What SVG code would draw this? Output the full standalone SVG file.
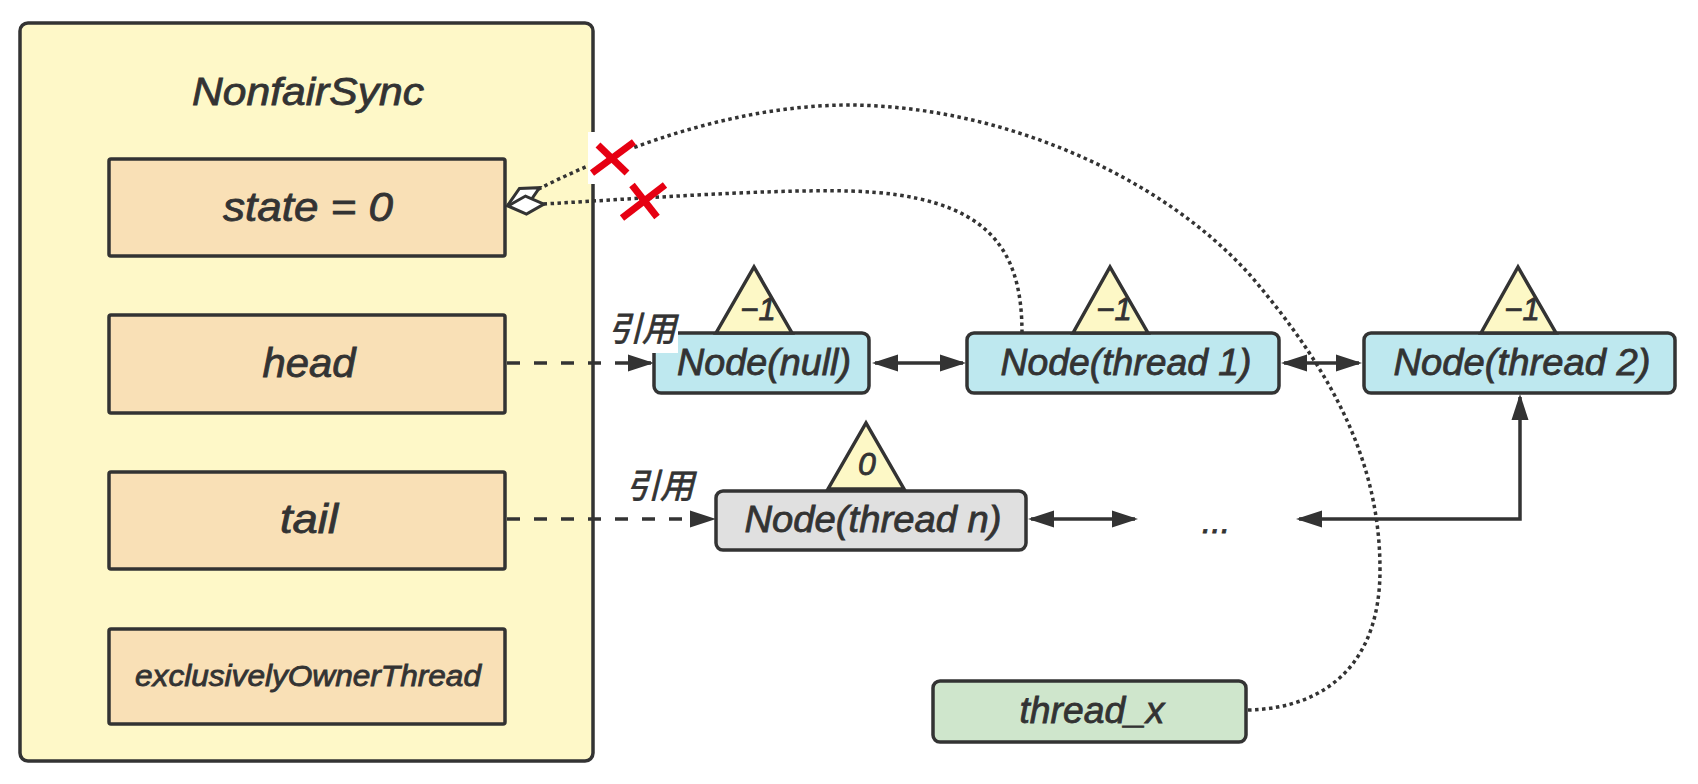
<svg xmlns="http://www.w3.org/2000/svg" width="1698" height="784" viewBox="0 0 1698 784">
<style>
.t{font-family:"Liberation Sans","Noto Sans CJK SC",sans-serif;font-style:italic;fill:#333;text-anchor:middle;stroke:#333;stroke-width:0.8}
.box{stroke:#333;stroke-width:3.5}
.field{fill:#F9E0B6}
.node{fill:#BEE8EF}
.tri{fill:#FDF8C6;stroke:#333;stroke-width:3.5;stroke-linejoin:miter}
.ln{fill:none;stroke:#333;stroke-width:3.5}
.dash{stroke-dasharray:13 14}
.dot{fill:none;stroke:#333;stroke-width:3.5;stroke-dasharray:3.5 3.5}
.x{stroke:#E60012;stroke-width:7;stroke-linecap:butt}
</style>
<defs>
<marker id="ah" markerUnits="userSpaceOnUse" markerWidth="40" markerHeight="30" viewBox="-30 -15 40 30" refX="0" refY="0" orient="auto-start-reverse">
<path d="M3,0 L-23,-8.5 L-23,8.5 Z" fill="#333"/>
</marker>
<marker id="dia" markerUnits="userSpaceOnUse" markerWidth="50" markerHeight="30" viewBox="-45 -15 50 30" refX="0" refY="0" orient="auto">
<path d="M0,0 L-18,-9 L-36,0 L-18,9 Z" fill="#fff" stroke="#333" stroke-width="3" stroke-linejoin="miter"/>
</marker>
</defs>
<rect width="1698" height="784" fill="#fff"/>

<g id="nonfairsync">
<rect x="20" y="23" width="573" height="738" rx="8" fill="#FEF8C8" class="box"/>
<text class="t" x="308" y="105" font-size="39" textLength="232" lengthAdjust="spacingAndGlyphs">NonfairSync</text>
</g>
<g id="state">
<rect x="109" y="159" width="396" height="97" rx="2" class="box field"/>
<text class="t" x="308" y="221" font-size="40" textLength="170" lengthAdjust="spacingAndGlyphs">state = 0</text>
</g>
<g id="head">
<rect x="109" y="315" width="396" height="98" rx="2" class="box field"/>
<text class="t" x="309" y="377" font-size="40" textLength="93" lengthAdjust="spacingAndGlyphs">head</text>
</g>
<g id="tail">
<rect x="109" y="472" width="396" height="97" rx="2" class="box field"/>
<text class="t" x="309" y="533" font-size="40" textLength="58" lengthAdjust="spacingAndGlyphs">tail</text>
</g>
<g id="owner">
<rect x="109" y="629" width="396" height="95" rx="2" class="box field"/>
<text class="t" x="308" y="686" font-size="29" textLength="346" lengthAdjust="spacingAndGlyphs">exclusivelyOwnerThread</text>
</g>

<g id="node-null">
<rect x="654" y="333" width="215" height="60" rx="7" class="box node"/>
<text class="t" x="764" y="375" font-size="37" textLength="174" lengthAdjust="spacingAndGlyphs">Node(null)</text>
<polygon points="716,333 754,267 792,333" class="tri"/>
<text class="t" x="758" y="320" font-size="31">−1</text>
</g>
<g id="node-thread1">
<rect x="967" y="333" width="312" height="60" rx="7" class="box node"/>
<text class="t" x="1126" y="375" font-size="37" textLength="251" lengthAdjust="spacingAndGlyphs">Node(thread 1)</text>
<polygon points="1073,333 1110,267 1148,333" class="tri"/>
<text class="t" x="1114" y="320" font-size="31">−1</text>
</g>
<g id="node-thread2">
<rect x="1364" y="333" width="311" height="60" rx="7" class="box node"/>
<text class="t" x="1522" y="375" font-size="37" textLength="257" lengthAdjust="spacingAndGlyphs">Node(thread 2)</text>
<polygon points="1481,333 1518,267 1556,333" class="tri"/>
<text class="t" x="1522" y="320" font-size="31">−1</text>
</g>
<g id="node-threadn">
<rect x="716" y="491" width="310" height="59" rx="7" class="box" fill="#E0E0E0"/>
<text class="t" x="873" y="532" font-size="37" textLength="257" lengthAdjust="spacingAndGlyphs">Node(thread n)</text>
<polygon points="828,489 866,423 904,489" class="tri"/>
<text class="t" x="867" y="475" font-size="32">0</text>
</g>
<g id="ellipsis">
<text class="t" x="1216" y="533" font-size="34">...</text>
</g>
<g id="thread-x">
<rect x="933" y="681" width="313" height="61" rx="7" class="box" fill="#CFE6CC"/>
<text class="t" x="1092" y="723" font-size="37" textLength="145" lengthAdjust="spacingAndGlyphs">thread_x</text>
</g>

<g id="connectors">
<line x1="507" y1="363" x2="651" y2="363" class="ln dash" marker-end="url(#ah)"/>
<line x1="507" y1="519" x2="713" y2="519" class="ln dash" marker-end="url(#ah)"/>
<line x1="875" y1="363" x2="963" y2="363" class="ln" marker-start="url(#ah)" marker-end="url(#ah)"/>
<line x1="1284" y1="363" x2="1359" y2="363" class="ln" marker-start="url(#ah)" marker-end="url(#ah)"/>
<line x1="1031" y1="519" x2="1135" y2="519" class="ln" marker-start="url(#ah)" marker-end="url(#ah)"/>
<path d="M1299,519 H1520 V397" class="ln" marker-start="url(#ah)" marker-end="url(#ah)"/>
<path d="M1248,710 C1330,708 1380,660 1380,570 C1380,470 1340,380 1250,275 C1160,175 1000,106 850,105 C720,105 590,160 508,205" class="dot" marker-end="url(#dia)"/>
<path d="M1022,333 C1022,250 990,195 850,191 C760,189 620,200 508,206" class="dot" marker-end="url(#dia)"/>
</g>

<g id="labels">
<rect x="607" y="313" width="71" height="40" fill="#fff"/>
<text class="t" x="642" y="341" font-size="34" stroke-width="0.3">引用</text>
<text class="t" x="660" y="498" font-size="34" stroke-width="0.3">引用</text>
</g>

<g id="cross-marks">
<rect x="588" y="132" width="46" height="52" fill="#fff"/>
<line x1="598" y1="145" x2="627" y2="173" class="x"/>
<line x1="634" y1="142" x2="592" y2="173" class="x"/>
<line x1="632" y1="185" x2="657" y2="217" class="x"/>
<line x1="665" y1="185" x2="622" y2="218" class="x"/>
</g>
</svg>
